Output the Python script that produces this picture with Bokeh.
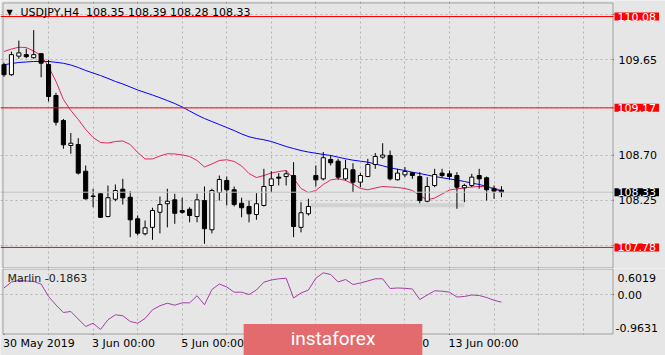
from bokeh.plotting import figure
from bokeh.layouts import column
from bokeh.models import (Range1d, Span, Label, Grid, FixedTicker, BoxAnnotation,
                          ColumnDataSource)
from bokeh.embed import file_html
from bokeh.resources import INLINE

# ---------------- data ----------------
symbol = "USDJPY,H4"
opens = [109.600, 109.500, 109.685, 109.700, 109.670, 109.710, 109.602, 109.293, 109.044, 108.795,
         108.805, 108.539, 108.292, 108.314, 108.088, 108.260, 108.360, 108.280, 108.065, 107.916,
         107.980, 108.130, 108.215, 108.254, 108.148, 108.160, 108.088, 108.247, 107.956, 108.327,
         108.447, 108.354, 108.220, 108.188, 108.108, 108.198, 108.397, 108.480, 108.486, 108.496,
         107.980, 108.115, 108.496, 108.463, 108.656, 108.639, 108.463, 108.553, 108.430, 108.486,
         108.606, 108.679, 108.696, 108.454, 108.503, 108.523, 108.486, 108.240, 108.397, 108.520,
         108.513, 108.496, 108.374, 108.397, 108.496, 108.473, 108.364, 108.350]
highs = [109.620, 109.730, 109.840, 109.760, 109.944, 109.710, 109.649, 109.320, 109.060, 108.920,
         108.868, 108.596, 108.364, 108.317, 108.397, 108.407, 108.463, 108.340, 108.098, 108.048,
         108.175, 108.287, 108.364, 108.314, 108.275, 108.180, 108.314, 108.387, 108.364, 108.496,
         108.486, 108.387, 108.275, 108.247, 108.320, 108.563, 108.539, 108.520, 108.546, 108.629,
         108.230, 108.264, 108.596, 108.730, 108.700, 108.663, 108.653, 108.619, 108.520, 108.663,
         108.720, 108.818, 108.745, 108.563, 108.580, 108.530, 108.530, 108.480, 108.563, 108.563,
         108.546, 108.530, 108.414, 108.513, 108.563, 108.486, 108.397, 108.390]
lows = [109.480, 109.490, 109.660, 109.665, 109.660, 109.475, 109.233, 108.994, 108.762, 108.713,
        108.506, 108.257, 108.180, 108.075, 108.080, 108.240, 108.207, 107.882, 107.900, 107.900,
        107.856, 107.920, 107.980, 108.015, 108.115, 108.030, 108.030, 107.816, 107.920, 108.247,
        108.198, 108.188, 108.080, 108.030, 108.055, 108.188, 108.330, 108.397, 108.397, 107.882,
        107.930, 108.098, 108.387, 108.447, 108.596, 108.454, 108.447, 108.330, 108.380, 108.480,
        108.563, 108.663, 108.447, 108.447, 108.480, 108.463, 108.220, 108.230, 108.380, 108.474,
        108.454, 108.165, 108.230, 108.380, 108.364, 108.247, 108.264, 108.280]
closes = [109.500, 109.700, 109.718, 109.680, 109.700, 109.615, 109.283, 109.027, 108.802, 108.818,
          108.520, 108.264, 108.288, 108.080, 108.275, 108.347, 108.274, 108.055, 107.922, 107.976,
          108.148, 108.207, 108.240, 108.120, 108.130, 108.098, 108.254, 107.966, 108.347, 108.457,
          108.354, 108.207, 108.175, 108.115, 108.215, 108.387, 108.463, 108.470, 108.513, 107.988,
          108.125, 108.188, 108.453, 108.673, 108.623, 108.480, 108.563, 108.430, 108.496, 108.606,
          108.686, 108.700, 108.463, 108.520, 108.536, 108.496, 108.247, 108.387, 108.506, 108.496,
          108.486, 108.380, 108.397, 108.480, 108.463, 108.354, 108.340, 108.330]
ma_fast = [109.731, 109.756, 109.774, 109.771, 109.736, 109.692, 109.582, 109.433, 109.253, 109.144,
           109.054, 108.955, 108.875, 108.825, 108.820, 108.835, 108.840, 108.805, 108.726, 108.661,
           108.661, 108.691, 108.713, 108.711, 108.701, 108.686, 108.646, 108.581, 108.611, 108.646,
           108.653, 108.636, 108.591, 108.516, 108.476, 108.496, 108.521, 108.536, 108.546, 108.467,
           108.367, 108.327, 108.347, 108.407, 108.452, 108.464, 108.447, 108.412, 108.367, 108.354,
           108.372, 108.387, 108.382, 108.377, 108.367, 108.347, 108.297, 108.254, 108.272, 108.312,
           108.352, 108.364, 108.372, 108.382, 108.387, 108.384, 108.372, 108.347]
ma_slow = [109.599, 109.612, 109.622, 109.627, 109.632, 109.632, 109.632, 109.624, 109.614, 109.597,
           109.572, 109.542, 109.517, 109.492, 109.463, 109.433, 109.408, 109.378, 109.348, 109.323,
           109.298, 109.271, 109.243, 109.213, 109.179, 109.139, 109.099, 109.064, 109.034, 109.004,
           108.974, 108.944, 108.910, 108.882, 108.865, 108.852, 108.835, 108.810, 108.785, 108.765,
           108.745, 108.730, 108.718, 108.706, 108.696, 108.679, 108.663, 108.649, 108.639, 108.629,
           108.611, 108.593, 108.573, 108.559, 108.546, 108.529, 108.516, 108.501, 108.486, 108.474,
           108.462, 108.450, 108.437, 108.421, 108.407, 108.387, 108.362, 108.342]
marlin = [0.157, 0.303, 0.339, 0.327, 0.315, 0.254, -0.048, -0.254, -0.436, -0.411,
          -0.593, -0.774, -0.695, -0.847, -0.612, -0.491, -0.515, -0.653, -0.695, -0.581,
          -0.370, -0.273, -0.211, -0.259, -0.201, -0.201, -0.031, -0.249, 0.121, 0.254,
          0.182, 0.056, 0.056, 0.000, 0.109, 0.298, 0.351, 0.380, 0.394, -0.085,
          0.036, 0.109, 0.394, 0.525, 0.484, 0.303, 0.363, 0.242, 0.278, 0.327,
          0.380, 0.380, 0.145, 0.157, 0.150, 0.133, -0.121, -0.012, 0.090, 0.080,
          0.056, -0.061, -0.048, -0.012, -0.024, -0.073, -0.140, -0.1863]
marlin_max = 0.6019
marlin_min = -0.9631
levels = [110.08, 109.17, 107.78]
price_ticks = [110.10, 109.65, 109.17, 108.70, 108.25, 107.80]
marlin_ticks = [0.0]
date_ticks = [0, 12, 24, 36, 48, 60]
date_labels = ["30 May 2019", "3 Jun 00:00", "5 Jun 00:00", "7 Jun 00:00",
               "11 Jun 00:00", "13 Jun 00:00"]
zone_start = [41.3]
zone_end = [62.0]
zone_low = [108.18]
zone_high = [108.22]

# ---------------- layout calibration (pixels -> data) ----------------
BG = "#e6e6e6"
GRID = "#b4b4b4"
FONT = "DejaVu Sans"
W, H1, H2 = 665, 268, 87


def xd(px):          # canvas x pixel -> bar index
    return (px - 3.5) / 7.425


def yd(py):          # main panel y pixel -> price
    return 110.08 - (py - 16) / 100.4


def yd2(py):         # indicator panel local y pixel -> indicator value
    return (26 - py) * 0.0242


idx = list(range(len(opens)))
up = [c >= o for o, c in zip(opens, closes)]
src = ColumnDataSource(dict(
    x=idx, high=highs, low=lows,
    top=[max(o, c) for o, c in zip(opens, closes)],
    bottom=[min(o, c) for o, c in zip(opens, closes)],
    fill=["white" if u else "black" for u in up],
))

xr = Range1d(xd(0), xd(W))
day_grid = [d for d in range(6, 90, 6) if xd(0) < d < xd(610)]


def lab(fig, text, x, y, size="11px", color="black", font=FONT, align="left",
        baseline="middle", **kw):
    fig.add_layout(Label(x=x, y=y, text=text, text_font=font, text_font_size=size,
                         text_color=color, text_align=align, text_baseline=baseline, **kw))


def base_fig(h, yrange):
    f = figure(width=W, height=h, x_range=xr, y_range=yrange, title=None,
               output_backend="svg", toolbar_location=None,
               x_axis_location=None, y_axis_location=None, min_border=0,
               background_fill_color=BG, border_fill_color=BG, outline_line_color=None)
    f.grid.visible = False
    f.add_layout(Grid(dimension=0, ticker=FixedTicker(ticks=day_grid),
                      grid_line_color=GRID, grid_line_dash="2 3"))
    return f


# ---------------- main price panel ----------------
p = base_fig(H1, Range1d(yd(H1), yd(0)))
p.add_layout(Grid(dimension=1, ticker=FixedTicker(ticks=price_ticks),
                  grid_line_color=GRID, grid_line_dash="2 3"))

p.quad(left=zone_start, right=zone_end, bottom=zone_low, top=zone_high,
       fill_color="#d2d2d2", line_color=None)
p.add_layout(Span(location=closes[-1], dimension="width", line_color="#c4c4c4", line_width=1))
for lv in levels:
    p.add_layout(Span(location=lv, dimension="width", line_color="#ff0000", line_width=1))

p.line(idx, ma_slow, line_color="#0000ff", line_width=1)
p.line(idx, ma_fast, line_color="#e0285a", line_width=1)
p.segment(x0="x", y0="low", x1="x", y1="high", source=src, line_color="black", line_width=1)
p.vbar(x="x", width=0.55, top="top", bottom="bottom", source=src,
       fill_color="fill", line_color="black", line_width=1)

# price-scale area and panel border
p.add_layout(BoxAnnotation(left=xd(613), fill_color=BG, fill_alpha=1, line_color=None))
p.add_layout(BoxAnnotation(left=xd(2.5), right=xd(612.5), top=yd(2.5), bottom=yd(267.5),
                           fill_color=None, line_color="black", line_width=1))
p.segment(x0=[xd(612.5)] * len(price_ticks), x1=[xd(615.5)] * len(price_ticks),
          y0=price_ticks, y1=price_ticks, line_color="black", line_width=1)

lab(p, "\u25bc", xd(6), yd(12), size="8px")
lab(p, f"{symbol}\u00a0\u00a0{opens[-1]:.2f} {highs[-1]:.2f} {lows[-1]:.2f} {closes[-1]:.2f}",
    xd(20), yd(12))
for t in price_ticks:
    if min(abs(t - lv) for lv in levels) > 0.05:
        lab(p, f"{t:.2f}", xd(618), t)
for lv in levels:
    lab(p, f"{lv:.2f}", xd(614), lv, color="white",
        background_fill_color="#ff0000", padding=dict(left=3, right=3, top=0, bottom=0))
lab(p, f"{closes[-1]:.2f}", xd(614), closes[-1], color="white",
    background_fill_color="black", padding=dict(left=3, right=3, top=0, bottom=0))

# ---------------- indicator panel ----------------
p2 = base_fig(H2, Range1d(yd2(H2), yd2(0)))
p2.add_layout(Grid(dimension=1, ticker=FixedTicker(ticks=marlin_ticks),
                   grid_line_color=GRID, grid_line_dash="2 3"))

p2.line(idx, marlin, line_color="#a83ca8", line_width=1)

p2.add_layout(BoxAnnotation(left=xd(613), fill_color=BG, fill_alpha=1, line_color=None))
p2.add_layout(BoxAnnotation(top=yd2(66), fill_color=BG, fill_alpha=1, line_color=None))
p2.add_layout(BoxAnnotation(left=xd(2.5), right=xd(612.5), top=yd2(0.5), bottom=yd2(65.5),
                            fill_color=None, line_color="black", line_width=1))
p2.segment(x0=date_ticks, x1=date_ticks, y0=[yd2(65.5)] * len(date_ticks),
           y1=[yd2(69.5)] * len(date_ticks), line_color="black", line_width=1)
p2.segment(x0=[xd(612.5)] * len(marlin_ticks), x1=[xd(615.5)] * len(marlin_ticks),
           y0=marlin_ticks, y1=marlin_ticks, line_color="black", line_width=1)

lab(p2, f"Marlin {marlin[-1]:.4f}", xd(7), yd2(10), color="#222222")
lab(p2, f"{marlin_max:.4f}", xd(617), yd2(9))
for t in marlin_ticks:
    lab(p2, f"{t:.2f}", xd(617), t)
lab(p2, f"{marlin_min:.4f}", xd(615), yd2(59))
for t, s in zip(date_ticks, date_labels):
    lab(p2, s, t, yd2(75), x_offset=-1)
lab(p2, "instaforex", xd(332.5), yd2(72.5), size="19px", color="white", font="Roboto",
    align="center", background_fill_color="#e36b6e",
    padding=dict(left=47, right=47, top=3, bottom=8))

layout = column(p, p2, spacing=0)
open("out.html", "w").write(file_html(layout, INLINE))
